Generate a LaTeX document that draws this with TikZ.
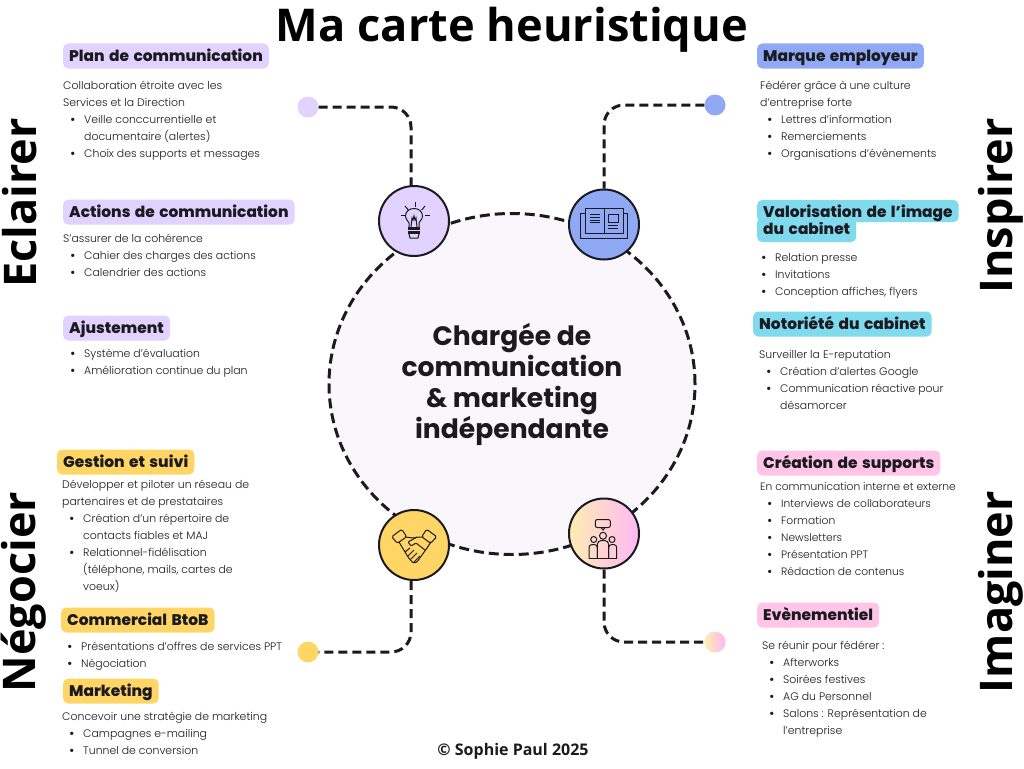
\documentclass[tikz,border=0pt]{standalone}
\usepackage{fontspec}
\usetikzlibrary{
    arrows.meta,
    shapes.geometric
}
\usepackage{xcolor}
\newfontfamily\policetitre{Open Sans}
\newfontfamily\policetag[BoldFont={* ExtraBold},WordSpace=1.5]{Poppins}
\newfontfamily\policecentre{Poppins}
\newfontfamily\policecorps[UprightFont={* Light}]{Poppins}
\definecolor{lilas}{HTML}{E1D2FF}
\definecolor{bleu}{HTML}{8FA9F5}
\definecolor{cyan}{HTML}{7FDAEE}
\definecolor{rose}{HTML}{FFC4E6}
\definecolor{jaune}{HTML}{FFD666}
\definecolor{encre}{HTML}{1A1A20}
\definecolor{fond}{HTML}{F9F7FC}
\definecolor{degradeA}{HTML}{FFEDB0}
\definecolor{degradeB}{HTML}{FFB8F5}
\newcommand{\puce}[1]{\hspace*{7pt}\makebox[14pt][l]{{\policecentre\bfseries\textbullet}}#1}
\newcommand{\suite}[1]{\hspace*{21pt}#1}

\begin{document}
\begin{tikzpicture}[
    x=1pt,
    y=-1pt,
    etiquette/.style={
        anchor=west,
        rounded corners=5pt,
        inner xsep=6pt,
        inner ysep=5.5pt,
        text height=12pt,
        text depth=2pt,
        text=encre,
        font=\policetag\bfseries\fontsize{15.4}{17}\selectfont
    },
    corps/.style={
        anchor=north west,
        inner sep=0pt,
        align=left,
        text=encre,
        font=\policecorps\fontsize{10.9}{17}\selectfont
    },
    rond/.style={
        circle,
        draw=encre,
        line width=2pt,
        minimum size=70pt,
        inner sep=0pt
    },
    pastille/.style={
        circle,
        minimum size=21pt,
        inner sep=0pt
    },
    lien/.style={
        draw=encre,
        line width=3pt,
        dash pattern=on 9pt off 5pt,
        rounded corners=20pt
    },
    cote/.style={
        rotate=90,
        text=black,
        font=\policetitre\bfseries\fontsize{45}{49}\selectfont
    },
    icone/.style={
        draw=encre,
        line width=1pt
    }
]

\useasboundingbox (0,0) rectangle (1024,768);
\fill[white] (0,0) rectangle (1024,768);

\node[font=\policetitre\bfseries\fontsize{45.2}{50}\selectfont] (titre) at (512,30) {Ma carte heuristique};
\node[font=\policetitre\bfseries\fontsize{16}{19}\selectfont, text=encre] (signature) at (513,751) {© Sophie Paul 2025};

\node[cote] (eclairer) at (20,203) {Eclairer};
\node[cote] (negocier) at (24,592) {Négocier};
\node[cote] (inspirer) at (1001,206) {Inspirer};
\node[cote] (imaginer) at (1001,592) {Imaginer};

\node[ellipse, fill=fond, draw=encre, line width=3pt, dash pattern=on 10pt off 5pt,
    minimum width=366pt, minimum height=341pt, inner sep=0pt, align=center, text=encre,
    font=\policecentre\bfseries\fontsize{26.6}{31}\selectfont] (centre) at (512,384)
    {Chargée de\\communication\\\& marketing\\indépendante};

\node[rond, fill=lilas] (rondlilas) at (414,221) {};
\node[rond, fill=bleu] (rondbleu) at (604,224.5) {};
\node[rond, fill=jaune] (rondjaune) at (414,545) {};
\node[rond, left color=degradeA, right color=degradeB] (rondgrad) at (604,533.5) {};

\node[pastille, fill=lilas] (ptlilas) at (308,107) {};
\node[pastille, fill=bleu] (ptbleu) at (715,105) {};
\node[pastille, fill=jaune] (ptjaune) at (308,652) {};
\node[pastille, left color=degradeA, right color=degradeB] (ptgrad) at (715,642) {};

\draw[lien] (ptlilas.east) -| ([xshift=-3pt]rondlilas.north);
\draw[lien] (ptbleu.west) -| (rondbleu.north);
\draw[lien] (rondjaune.south) ++(-3pt,0) |- (ptjaune.east);
\draw[lien] (rondgrad.south) |- (ptgrad.west);

\begin{scope}[shift={(414,221)}]
    \draw[icone] (-5,6) -- (-5,2) .. controls (-5,0) and (-8.5,-1) .. (-8.5,-5) .. controls (-8.5,-15) and (8.5,-15) .. (8.5,-5) .. controls (8.5,-1) and (5,0) .. (5,2) -- (5,6);
    \draw[icone] (-3,6) -- (-2,-3) -- (-1,-1) -- (0,-5) -- (1,-1) -- (2,-3) -- (3,6);
    \draw[icone, fill=encre] (-5.5,6.5) rectangle (5.5,8.5);
    \draw[icone, fill=encre] (-5.5,10) rectangle (5.5,12);
    \draw[icone] (-5,13) -- (-4,17) -- (4,17) -- (5,13);
    \draw[icone] (1,-19) -- (1,-14);
    \draw[icone] (-9,-15) -- (-5.7,-11);
    \draw[icone] (11,-15) -- (7.7,-11);
    \draw[icone] (-13.5,-6) -- (-9,-6);
    \draw[icone] (16,-6) -- (11,-6);
\end{scope}

\begin{scope}[shift={(604,224.5)}]
    \draw[icone] (-18.7,-11.5) -- (-23.7,-11.5) -- (-23.7,13.7) -- (23.7,13.7) -- (23.7,-11.5) -- (19,-11.5);
    \draw[icone, fill=bleu] (0,9.3) -- (-18.7,9.3) -- (-18.7,-16.3) -- (0,-16.3) -- (19,-16.3) -- (19,9.3) -- (0,9.3) -- (0,-16.3);
    \draw[icone] (-14,-10) -- (-4,-10);
    \draw[icone] (-14,-7.2) -- (-4,-7.2);
    \draw[icone] (-14,-4.4) -- (-4,-4.4);
    \draw[icone] (-14,-1.6) -- (-4,-1.6);
    \draw[icone] (4,-10.5) rectangle (14,-2);
    \draw[icone] (4,0.5) -- (14,0.5);
    \draw[icone] (4,3.5) -- (14,3.5);
\end{scope}

\begin{scope}[shift={(414,545)}]
    \draw[icone, rounded corners=1.5pt, fill=jaune] (-22.3,-8.3) -- (-12.3,-15.7) -- (-7.3,-8.3) -- (-16.7,-1.7) -- cycle;
    \draw[icone, rounded corners=1.5pt, fill=jaune] (22.7,-8.3) -- (12.7,-15.7) -- (7.7,-8.3) -- (16.7,-1.7) -- cycle;
    \draw[icone, rounded corners=1pt] (-15,-3) -- (-6,12) -- (-1,18) -- (3,17) -- (13,3) -- (17,-3);
    \draw[icone, rounded corners=1pt] (-8,-8) -- (-1,-7) -- (5,-8) -- (9,-8);
    \draw[icone, rounded corners=1pt] (3,-8) -- (-6,-3) -- (-3,1) -- (2,-2) -- (11,5);
    \draw[icone] (-9,7) -- (-4,3);
    \draw[icone] (-6,11) -- (0,5);
    \draw[icone] (-3,14) -- (3,8);
    \draw[icone] (0,17) -- (6,11);
\end{scope}

\begin{scope}[shift={(604,533.5)}]
    \draw[icone, rounded corners=2pt] (-8.7,-14) rectangle (6.3,-6);
    \draw[icone] (-3,-6) -- (-1,-3.5) -- (1,-6);
    \draw[icone] (-1,2.3) circle (3.5pt);
    \draw[icone] (-10.3,6) circle (3pt);
    \draw[icone] (8,6) circle (3pt);
    \draw[icone, rounded corners=3pt] (-15,25) -- (-15,11) -- (-6.7,11) -- (-6.7,25);
    \draw[icone, rounded corners=4pt] (-6.7,25) -- (-6.7,7) -- (4.7,7) -- (4.7,25);
    \draw[icone, rounded corners=3pt] (4.7,25) -- (4.7,11) -- (12.7,11) -- (12.7,25);
    \draw[icone] (-15,25) -- (12.7,25);
\end{scope}

\node[etiquette, fill=lilas] (plan) at (63,56) {Plan de communication};
\node[corps] (plantxt) at (63,81) {Collaboration étroite avec les\\Services et la Direction\\\puce{Veille conccurrentielle et}\\\suite{documentaire (alertes)}\\\puce{Choix des supports et messages}};

\node[etiquette, fill=lilas] (actions) at (63,212) {Actions de communication};
\node[corps] (actionstxt) at (63,234) {S’assurer de la cohérence\\\puce{Cahier des charges des actions}\\\puce{Calendrier des actions}};

\node[etiquette, fill=lilas] (ajustement) at (63,328) {Ajustement};
\node[corps] (ajustementtxt) at (63,349) {\puce{Système d’évaluation}\\\puce{Amélioration continue du plan}};

\node[etiquette, fill=jaune] (gestion) at (57,462) {Gestion et suivi};
\node[corps] (gestiontxt) at (62,480) {Développer et piloter un réseau de\\partenaires et de prestataires\\\puce{Création d’un répertoire de}\\\suite{contacts fiables et MAJ}\\\puce{Relationnel-fidélisation}\\\suite{(téléphone, mails, cartes de}\\\suite{voeux)}};

\node[etiquette, fill=jaune] (commercial) at (61,620) {Commercial BtoB};
\node[corps] (commercialtxt) at (60,642) {\puce{Présentations d’offres de services PPT}\\\puce{Négociation}};

\node[etiquette, fill=jaune] (marketing) at (63,691) {Marketing};
\node[corps] (marketingtxt) at (62,712) {Concevoir une stratégie de marketing\\\puce{Campagnes e-mailing}\\\puce{Tunnel de conversion}};

\node[etiquette, fill=bleu] (marque) at (757,56) {Marque employeur};
\node[corps] (marquetxt) at (760,81) {Fédérer grâce à une culture\\d’entreprise forte\\\puce{Lettres d’information}\\\puce{Remerciements}\\\puce{Organisations d’évènements}};

\node[etiquette, fill=cyan] (valorisationb) at (757,229.5) {du cabinet};
\node[etiquette, fill=cyan, text height=13pt, text depth=1pt, inner ysep=4pt] (valorisation) at (757,211) {Valorisation de l’image};
\node[corps] (valorisationtxt) at (754,253) {\puce{Relation presse}\\\puce{Invitations}\\\puce{Conception affiches, flyers}};

\node[etiquette, fill=cyan] (notoriete) at (753,324) {Notoriété du cabinet};
\node[corps] (notorietetxt) at (759,350) {Surveiller la E-reputation\\\puce{Création d’alertes Google}\\\puce{Communication réactive pour}\\\suite{désamorcer}};

\node[etiquette, fill=rose] (creation) at (757,463) {Création de supports};
\node[corps, font=\policecorps\fontsize{10.7}{17}\selectfont] (creationtxt) at (760,482) {En communication interne et externe\\\puce{Interviews de collaborateurs}\\\puce{Formation}\\\puce{Newsletters}\\\puce{Présentation PPT}\\\puce{Rédaction de contenus}};

\node[etiquette, fill=rose] (evenement) at (757,615) {Evènementiel};
\node[corps] (evenementtxt) at (762,641) {Se réunir pour fédérer :\\\puce{Afterworks}\\\puce{Soirées festives}\\\puce{AG du Personnel}\\\puce{Salons : Représentation de}\\\suite{l’entreprise}};

\end{tikzpicture}
\end{document}
